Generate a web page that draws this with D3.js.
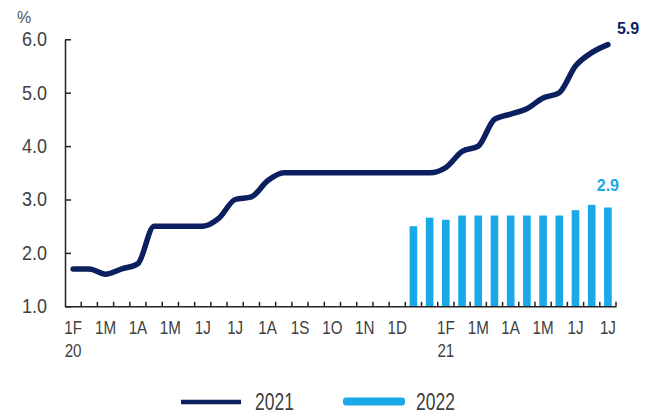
<!DOCTYPE html>
<html>
<head>
<meta charset="utf-8">
<script src="https://cdn.jsdelivr.net/npm/d3@7"></script>
<style>
  body { margin: 0; background: #fff; }
  svg { display: block; font-family: "Liberation Sans", Arial, sans-serif; }
</style>
</head>
<body>
<div class="visHolder"></div>
<script>
// Category labels (semi-monthly points, label every other one)
const tickLabels = ["1F", "", "1M", "", "1A", "", "1M", "", "1J", "", "1J", "", "1A", "", "1S", "", "1O", "", "1N", "", "1D", "", "", "1F", "", "1M", "", "1A", "", "1M", "", "1J", "", "1J"];
const yearLabels = { 0: "20", 23: "21" };

// Series 2021 (line)
const series2021 = [1.7, 1.7, 1.6, 1.7, 1.8, 2.5, 2.5, 2.5, 2.5, 2.65, 3.0, 3.05, 3.35, 3.5, 3.5, 3.5, 3.5, 3.5, 3.5, 3.5, 3.5, 3.5, 3.5, 3.6, 3.9, 4.0, 4.5, 4.6, 4.7, 4.9, 5.0, 5.5, 5.75, 5.9];
// Series 2022 (bars), starts at index 21
const series2022 = [null, null, null, null, null, null, null, null, null, null, null, null, null, null, null, null, null, null, null, null, null, 2.5, 2.66, 2.62, 2.7, 2.7, 2.7, 2.7, 2.7, 2.7, 2.7, 2.8, 2.9, 2.85];

const yTicks = [1, 2, 3, 4, 5, 6];
const legendNames = ["2021", "2022"];

const width = 653;
const height = 416;
const navy = "#0c1f5f";
const blue = "#19a9e8";
const textColor = "#404040";

const xScale = d3.scaleBand()
    .domain(d3.range(tickLabels.length))
    .range([65, 616]);

const yScale = d3.scaleLinear()
    .domain([1, 6])
    .range([306.3, 39.3]);

const svg = d3.select(".visHolder")
    .append("svg")
    .attr("width", width)
    .attr("height", height);

// Bars for 2022
const barW = xScale.bandwidth() * 0.47;
svg.append("g")
    .selectAll("rect")
    .data(series2022.map((v, i) => ({ v, i })).filter(d => d.v !== null))
    .enter()
    .append("rect")
    .attr("x", d => xScale(d.i) + (xScale.bandwidth() - barW) / 2)
    .attr("y", d => yScale(d.v))
    .attr("width", barW)
    .attr("height", d => yScale(1) - yScale(d.v))
    .attr("fill", blue);

// Y axis
const yAxis = svg.append("g")
    .attr("transform", `translate(65, 0)`)
    .call(d3.axisLeft(yScale)
        .tickValues(yTicks)
        .tickFormat(d3.format(".1f"))
        .tickSizeInner(-6)
        .tickSizeOuter(0)
        .tickPadding(18));
yAxis.select(".domain").attr("stroke", "#222").attr("stroke-width", 1.5);
yAxis.selectAll(".tick line").attr("stroke", "#222").attr("stroke-width", 1.5);
yAxis.selectAll(".tick text")
    .attr("fill", textColor)
    .attr("x", -18 / 0.9)
    .attr("transform", "scale(0.9,1)")
    .style("font-size", "20px");

// X axis
const xAxis = svg.append("g")
    .attr("transform", `translate(0, ${yScale(1)})`)
    .call(d3.axisBottom(xScale)
        .tickFormat(i => tickLabels[i])
        .tickSize(0)
        .tickPadding(14));
xAxis.select(".domain").attr("stroke", "#222").attr("stroke-width", 1.5);
xAxis.selectAll(".tick text")
    .attr("fill", textColor)
    .attr("transform", "scale(0.8,1)")
    .style("font-size", "19px")
    .each(function (i) {
        if (yearLabels[i]) {
            d3.select(this).append("tspan")
                .attr("x", 0)
                .attr("dy", "1.2em")
                .text(yearLabels[i]);
        }
    });

// inward tick marks between categories
svg.append("g")
    .selectAll("line")
    .data(d3.range(1, tickLabels.length + 1))
    .enter()
    .append("line")
    .attr("x1", i => 65 + i * xScale.step())
    .attr("x2", i => 65 + i * xScale.step())
    .attr("y1", yScale(1))
    .attr("y2", yScale(1) - 4.5)
    .attr("stroke", "#222")
    .attr("stroke-width", 1.5);

// Line for 2021
const line = d3.line()
    .x((d, i) => xScale(i) + xScale.bandwidth() / 2)
    .y(d => yScale(d))
    .curve(d3.curveMonotoneX);

svg.append("path")
    .datum(series2021)
    .attr("d", line)
    .attr("fill", "none")
    .attr("stroke", navy)
    .attr("stroke-width", 5.5)
    .attr("stroke-linejoin", "round")
    .attr("stroke-linecap", "round");

// Unit label
svg.append("text")
    .attr("x", 17)
    .attr("y", 23)
    .attr("fill", "#555")
    .style("font-size", "16px")
    .text("%");

// End value labels
const last = series2021.length - 1;
svg.append("text")
    .attr("x", xScale(last) + xScale.bandwidth() / 2 + 9)
    .attr("y", 34)
    .attr("fill", navy)
    .style("font-size", "16px")
    .style("font-weight", "bold")
    .text(d3.format(".1f")(series2021[last]));

svg.append("text")
    .attr("x", xScale(last) + xScale.bandwidth() / 2)
    .attr("y", 191)
    .attr("text-anchor", "middle")
    .attr("fill", blue)
    .style("font-size", "16px")
    .style("font-weight", "bold")
    .text(d3.format(".1f")(d3.max(series2022)));

// Legend
const legend = svg.append("g");
legend.append("line")
    .attr("x1", 181).attr("x2", 241)
    .attr("y1", 402).attr("y2", 402)
    .attr("stroke", navy)
    .attr("stroke-width", 4.5);
legend.append("text")
    .attr("transform", "translate(255,410) scale(0.76,1)")
    .attr("fill", textColor)
    .style("font-size", "23px")
    .text(legendNames[0]);
legend.append("rect")
    .attr("x", 343).attr("y", 397.5)
    .attr("width", 62).attr("height", 8)
    .attr("rx", 3)
    .attr("fill", blue);
legend.append("text")
    .attr("transform", "translate(416,410) scale(0.76,1)")
    .attr("fill", textColor)
    .style("font-size", "23px")
    .text(legendNames[1]);
</script>
</body>
</html>
